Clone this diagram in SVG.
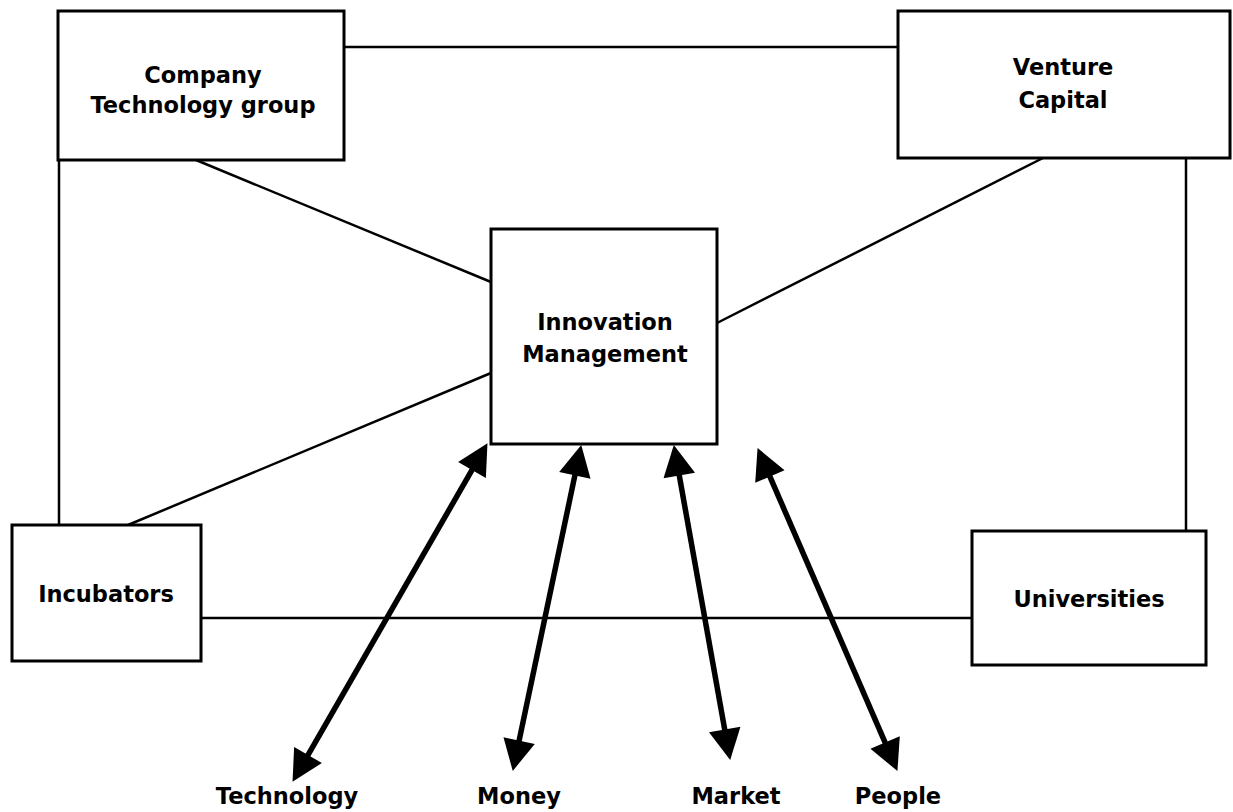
<svg xmlns="http://www.w3.org/2000/svg" width="1233" height="812" viewBox="0 0 1233 812">
<style>
.box{fill:#fff;stroke:#000;stroke-width:3}
.ln{stroke:#000;stroke-width:2.5;fill:none}
.ar{stroke:#000;stroke-width:5.5;fill:none;marker-start:url(#ah);marker-end:url(#ah)}
text{font-family:"DejaVu Sans","Liberation Sans",sans-serif;font-weight:bold;font-size:22.5px;text-anchor:middle;fill:#000}
</style>
<defs>
<marker id="ah" markerUnits="userSpaceOnUse" markerWidth="32" markerHeight="32" viewBox="0 0 31 32" refX="5" refY="16" orient="auto-start-reverse">
<path d="M0,0 L31,16 L0,32 z" fill="#000"/>
</marker>
</defs>
<rect width="1233" height="812" fill="#fff"/>
<g id="connectors">
<line class="ln" x1="344" y1="47" x2="898" y2="47"/>
<line class="ln" x1="59" y1="160" x2="59" y2="525"/>
<line class="ln" x1="1186" y1="158" x2="1186" y2="531"/>
<line class="ln" x1="201" y1="618" x2="972" y2="618"/>
<line class="ln" x1="196" y1="160" x2="491" y2="282"/>
<line class="ln" x1="1043" y1="158" x2="717" y2="323"/>
<line class="ln" x1="128" y1="525" x2="491" y2="373"/>
<line class="ar" x1="474.5" y1="465.7" x2="305.5" y2="759.3"/>
<line class="ar" x1="575.9" y1="470.5" x2="518.1" y2="745.5"/>
<line class="ar" x1="678.4" y1="470.6" x2="725.6" y2="734.4"/>
<line class="ar" x1="767.9" y1="471.9" x2="887.1" y2="747.1"/>
</g>
<g id="company">
<rect class="box" x="58" y="11" width="286" height="149"/>
<text x="203" y="83">Company</text>
<text x="203" y="113">Technology group</text>
</g>
<g id="venture">
<rect class="box" x="898" y="11" width="332" height="147"/>
<text x="1063" y="75">Venture</text>
<text x="1063" y="108">Capital</text>
</g>
<g id="innovation">
<rect class="box" x="491" y="229" width="226" height="215"/>
<text x="605" y="330">Innovation</text>
<text x="605" y="362">Management</text>
</g>
<g id="incubators">
<rect class="box" x="12" y="525" width="189" height="136"/>
<text x="106" y="602">Incubators</text>
</g>
<g id="universities">
<rect class="box" x="972" y="531" width="234" height="134"/>
<text x="1089" y="607">Universities</text>
</g>
<g id="labels">
<text x="287" y="804">Technology</text>
<text x="519" y="804">Money</text>
<text x="736" y="804">Market</text>
<text x="898" y="804">People</text>
</g>
</svg>
